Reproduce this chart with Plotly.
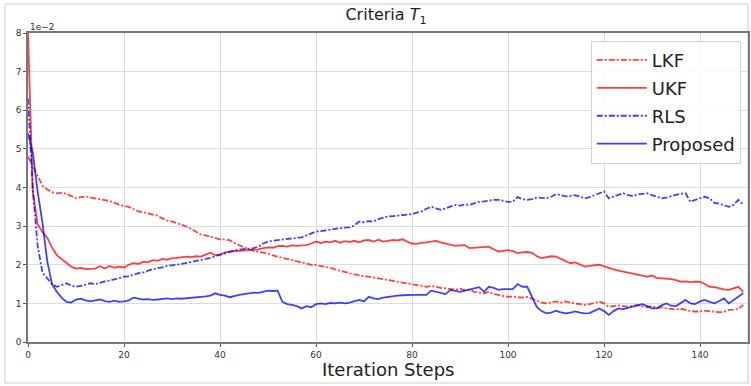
import plotly.graph_objects as go

steps = list(range(150))

lkf = [4.8, 4.55, 4.3, 4.05, 3.95, 3.88, 3.85, 3.86, 3.84, 3.78,
       3.72, 3.75, 3.77, 3.74, 3.72, 3.7, 3.68, 3.65, 3.6, 3.56,
       3.52, 3.5, 3.44, 3.38, 3.36, 3.33, 3.3, 3.27, 3.2, 3.14,
       3.12, 3.08, 3.03, 2.99, 2.93, 2.86, 2.78, 2.76, 2.72, 2.68,
       2.66, 2.65, 2.64, 2.56, 2.5, 2.44, 2.4, 2.36, 2.34, 2.31,
       2.29, 2.24, 2.21, 2.18, 2.15, 2.12, 2.08, 2.05, 2.02, 2.0,
       1.99, 1.97, 1.95, 1.92, 1.88, 1.84, 1.8, 1.78, 1.75, 1.72,
       1.7, 1.69, 1.67, 1.65, 1.63, 1.6, 1.58, 1.57, 1.55, 1.52,
       1.5, 1.48, 1.46, 1.43, 1.45, 1.42, 1.4, 1.39, 1.37, 1.35,
       1.38, 1.34, 1.35, 1.3, 1.28, 1.26, 1.3, 1.24, 1.22, 1.2,
       1.17, 1.18, 1.17, 1.15, 1.17, 1.12, 1.05, 1.02, 1.0, 1.03,
       1.05, 1.02, 1.05, 1.02, 1.0, 0.98, 0.96, 0.98, 1.02, 1.04,
       1.0, 0.91, 0.93, 0.95, 0.93, 0.91, 0.94, 0.96, 0.92, 0.9,
       0.93, 0.88, 0.9, 0.87, 0.86, 0.84, 0.86, 0.82, 0.8, 0.79,
       0.79, 0.81, 0.8, 0.78, 0.77, 0.78, 0.83, 0.84, 0.86, 0.96]

ukf = [8.0, 3.9, 3.05, 2.85, 2.7, 2.45, 2.25, 2.15, 2.05, 1.95,
       1.9, 1.92, 1.89, 1.9, 1.9, 1.96, 1.9, 1.97, 1.92, 1.95,
       1.93, 2.0, 2.04, 2.02, 2.08, 2.06, 2.12, 2.1, 2.15, 2.13,
       2.17, 2.18, 2.2, 2.21, 2.2, 2.22, 2.21, 2.26, 2.31, 2.25,
       2.26, 2.32, 2.34, 2.35, 2.36, 2.37, 2.38, 2.38, 2.4, 2.43,
       2.45, 2.44, 2.48, 2.49, 2.47, 2.5, 2.49, 2.5, 2.51, 2.55,
       2.6, 2.56, 2.6, 2.58, 2.62, 2.57, 2.61, 2.59, 2.62, 2.58,
       2.63, 2.64, 2.6, 2.65, 2.6, 2.62, 2.64, 2.63, 2.66, 2.6,
       2.55, 2.54, 2.57, 2.58, 2.6, 2.62, 2.58, 2.55, 2.52, 2.49,
       2.5, 2.51, 2.43, 2.44, 2.45, 2.46, 2.47, 2.4, 2.34, 2.36,
       2.38, 2.35, 2.3, 2.32, 2.33, 2.31, 2.22, 2.17, 2.2, 2.22,
       2.21, 2.15, 2.1, 2.04, 2.06, 2.0, 1.95, 1.97, 1.98, 2.0,
       1.96, 1.91, 1.88, 1.85, 1.82, 1.8, 1.78, 1.75, 1.72, 1.69,
       1.72, 1.66, 1.65, 1.65, 1.63, 1.6, 1.56, 1.57, 1.55, 1.56,
       1.56, 1.5, 1.43, 1.42, 1.38, 1.36, 1.35, 1.38, 1.43, 1.3]

rls = [6.3, 3.95, 2.5, 1.8, 1.65, 1.5, 1.43, 1.48, 1.52, 1.46,
       1.43, 1.45, 1.48, 1.52, 1.5, 1.54, 1.57, 1.59, 1.62, 1.65,
       1.69, 1.7, 1.74, 1.78, 1.8, 1.85, 1.89, 1.91, 1.93, 1.97,
       1.98, 2.0, 2.02, 2.04, 2.07, 2.1, 2.12, 2.15, 2.18, 2.22,
       2.25, 2.29, 2.34, 2.37, 2.39, 2.41, 2.42, 2.43, 2.47, 2.55,
       2.6, 2.62, 2.64, 2.66, 2.67, 2.68, 2.7, 2.71, 2.76, 2.8,
       2.86, 2.87, 2.9, 2.91, 2.93, 2.95, 2.96, 2.97, 3.02, 3.12,
       3.1, 3.13, 3.12, 3.18, 3.22, 3.25, 3.26, 3.27, 3.28, 3.29,
       3.31, 3.35, 3.38, 3.45, 3.5, 3.46, 3.42, 3.46, 3.5, 3.55,
       3.53, 3.56, 3.55, 3.6, 3.63, 3.64, 3.66, 3.68, 3.68, 3.66,
       3.63, 3.63, 3.75, 3.7, 3.68, 3.7, 3.74, 3.73, 3.72, 3.76,
       3.83, 3.8, 3.77, 3.78, 3.8, 3.76, 3.72, 3.75, 3.8, 3.85,
       3.9, 3.72, 3.76, 3.8, 3.85, 3.8, 3.78, 3.82, 3.84, 3.85,
       3.8, 3.76, 3.72, 3.74, 3.78, 3.8, 3.84, 3.85, 3.63, 3.68,
       3.72, 3.76, 3.72, 3.6, 3.58, 3.55, 3.5, 3.55, 3.68, 3.55]

proposed = [5.4, 4.9, 3.9, 3.1, 2.1, 1.5, 1.3, 1.15, 1.04, 1.02,
            1.1, 1.12, 1.08, 1.05, 1.08, 1.1, 1.06, 1.04, 1.07, 1.04,
            1.05, 1.08, 1.15, 1.12, 1.1, 1.11, 1.09, 1.1, 1.12, 1.13,
            1.11, 1.13, 1.12, 1.13, 1.14, 1.15, 1.17, 1.18, 1.2, 1.26,
            1.22, 1.2, 1.16, 1.2, 1.22, 1.24, 1.26, 1.28, 1.27, 1.3,
            1.33, 1.32, 1.33, 1.04, 0.98, 0.96, 0.93, 0.87, 0.93, 0.9,
            0.98, 1.0, 0.98, 1.01, 1.0, 1.02, 1.0, 1.02, 1.05, 1.09,
            1.05, 1.17, 1.13, 1.11, 1.15, 1.17, 1.19, 1.2, 1.21, 1.22,
            1.22, 1.22, 1.22, 1.22, 1.33, 1.3, 1.27, 1.24, 1.35, 1.32,
            1.3, 1.33, 1.36, 1.38, 1.42, 1.3, 1.43, 1.4, 1.35, 1.37,
            1.37, 1.37, 1.5, 1.43, 1.43, 1.17, 0.91, 0.8, 0.74, 0.76,
            0.81, 0.77, 0.74, 0.76, 0.79, 0.76, 0.74, 0.75, 0.8, 0.87,
            0.8, 0.7, 0.8, 0.87, 0.85, 0.88, 0.91, 0.94, 0.98, 0.93,
            0.87, 0.87, 0.95, 1.0, 0.94, 0.93, 1.02, 1.09, 1.0, 0.98,
            1.05, 1.09, 1.04, 1.0, 1.06, 1.13, 1.0, 1.08, 1.17, 1.26]

x_ticks = [0, 20, 40, 60, 80, 100, 120, 140]
y_ticks = [0, 1, 2, 3, 4, 5, 6, 7, 8]

RED = "rgba(255,0,0,0.75)"
BLUE = "rgba(0,0,255,0.75)"
DASHDOT = "6px,2px,2px,2px"

fig = go.Figure()
series = [
    ("LKF", lkf, RED, DASHDOT),
    ("UKF", ukf, RED, "solid"),
    ("RLS", rls, BLUE, DASHDOT),
    ("Proposed", proposed, BLUE, "solid"),
]
for name, vals, col, dash in series:
    fig.add_trace(go.Scatter(
        x=steps, y=vals, mode="lines", name=name, legendgroup=name,
        line=dict(color=col, width=1.8, dash=dash),
    ))

fig.update_layout(
    width=751, height=386,
    margin=dict(l=28, r=3, t=33, b=44, autoexpand=False),
    paper_bgcolor="white", plot_bgcolor="white",
    font=dict(family="DejaVu Sans", color="#222"),
    title=dict(text="Criteria <i>T</i><sub>1</sub>", x=0.514, xanchor="center",
               y=1 - 9 / 386, yanchor="top", font=dict(size=16, color="#222")),
    showlegend=True,
    legend=dict(x=0.99, y=0.975, xanchor="right", yanchor="top",
                bgcolor="rgba(255,255,255,0.85)", bordercolor="#d0d0d0",
                borderwidth=1, font=dict(size=18, color="#222"),
                traceorder="grouped", tracegroupgap=1.5, itemwidth=50),
    xaxis=dict(range=[0, 150], tickvals=x_ticks, showgrid=True, automargin=False,
               gridcolor="#dcdcdc", gridwidth=1, zeroline=False,
               showline=True, linecolor="#777", linewidth=1.5, mirror=True,
               ticks="outside", ticklen=3, tickcolor="#555",
               tickfont=dict(size=9, color="#333")),
    yaxis=dict(range=[0, 8], tickvals=y_ticks, showgrid=True, automargin=False,
               gridcolor="#dcdcdc", gridwidth=1, zeroline=False,
               showline=True, linecolor="#777", linewidth=1.5, mirror=True,
               ticks="outside", ticklen=3, tickcolor="#555",
               tickfont=dict(size=9, color="#333")),
    annotations=[
        dict(text="1e\u22122", x=0, y=1, xref="paper", yref="paper",
             xanchor="left", yanchor="bottom", showarrow=False,
             font=dict(size=9, color="#333"), yshift=-1),
        dict(text="Iteration Steps", x=0.5, y=-0.09, xref="paper", yref="paper",
             xanchor="center", yanchor="middle", showarrow=False,
             font=dict(size=18, color="#222")),
    ],
    shapes=[dict(type="rect", xref="paper", yref="paper",
                 x0=-0.032, x1=1.0, y0=-0.133, y1=1.094,
                 line=dict(color="#dddddd", width=1.5), layer="below")],
)

fig.write_html("out.html", config={"displayModeBar": False},
               post_script="document.body.style.margin='0';document.body.style.overflow='hidden';")
